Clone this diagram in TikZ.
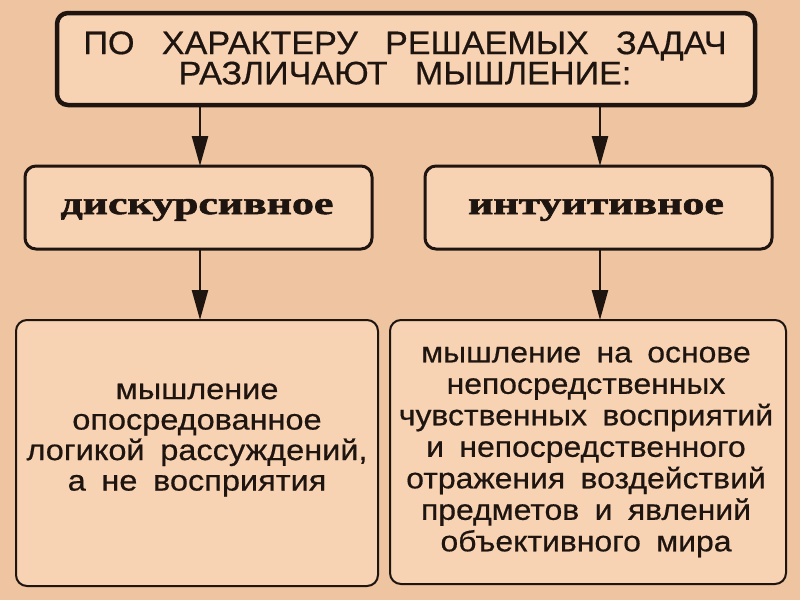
\documentclass[tikz,border=0pt]{standalone}
\usepackage{fontspec}
\setmainfont{Liberation Sans}
\newfontfamily\medsans[FakeBold=0.5]{Liberation Sans}
\newfontfamily\serifb[FakeBold=1.6]{Liberation Serif Bold}
\usetikzlibrary{arrows.meta}
\definecolor{bgc}{HTML}{EFC4A0}
\definecolor{boxc}{HTML}{F7D2B3}
\definecolor{linec}{HTML}{1E1410}
\newcommand\wg{\hspace*{26pt}}
\newcommand\ws{\hspace*{14pt}}
\tikzset{
  box/.style={draw=linec, fill=boxc, rounded corners=11pt},
  arr/.style={draw=linec, line width=2.5pt, -{Triangle[length=30pt,width=16pt]}},
  txt/.style={inner sep=0pt, text=linec, align=center},
}
\begin{document}
\begin{tikzpicture}[x=1pt,y=-1pt]
\fill[bgc] (0,0) rectangle (800,600);
\useasboundingbox (0,0) rectangle (800,600);
% boxes
\draw[box, line width=4.5pt] (57,13) rectangle (755,105);
\node[txt, font=\medsans\fontsize{32.5}{28}\selectfont, xscale=1.05, transform shape] (top) at (405,58)
  {ПО\wg ХАРАКТЕРУ\wg РЕШАЕМЫХ\wg ЗАДАЧ\\РАЗЛИЧАЮТ\wg МЫШЛЕНИЕ:};
\coordinate (topL) at (200,105);
\coordinate (topR) at (600,105);

\draw[box, line width=3pt] (25,166) rectangle (372,249);
\node[txt, font=\serifb\fontsize{32}{34}\selectfont, xscale=1.37, transform shape] (d) at (197,210) {дискурсивное};
\draw[box, line width=3pt] (425,166) rectangle (772,249);
\node[txt, font=\serifb\fontsize{32}{34}\selectfont, xscale=1.37, transform shape] (i) at (596,210) {интуитивное};
\coordinate (dT) at (200,166);
\coordinate (iT) at (600,166);
\coordinate (dB) at (200,249);
\coordinate (iB) at (600,249);

\draw[box, line width=2pt] (16,320) rectangle (378,586);
\node[txt, font=\medsans\fontsize{29}{30.5}\selectfont, xscale=1.12, transform shape] (l) at (197,440)
  {мышление\\опосредованное\\логикой\ws рассуждений,\\а\ws не\ws восприятия};
\draw[box, line width=2pt] (390,320) rectangle (786,584);
\node[txt, font=\medsans\fontsize{29}{31.5}\selectfont, xscale=1.1, transform shape] (r) at (586,452)
  {мышление\ws на\ws основе\\непосредственных\\чувственных\ws восприятий\\и\ws непосредственного\\отражения\ws воздействий\\предметов\ws и\ws явлений\\объективного\ws мира};
\coordinate (lT) at (200,320);
\coordinate (rT) at (600,320);

\draw[arr] (topL) -- (dT);
\draw[arr] (topR) -- (iT);
\draw[arr] (dB) -- (lT);
\draw[arr] (iB) -- (rT);
\end{tikzpicture}
\end{document}
